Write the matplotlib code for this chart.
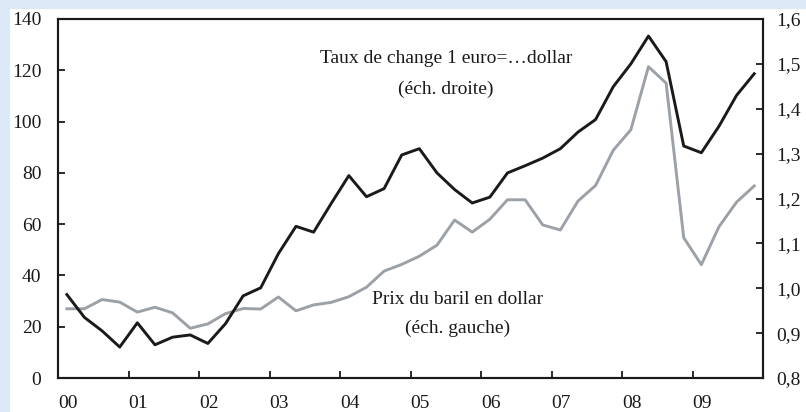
import matplotlib
matplotlib.use("Agg")
import matplotlib.pyplot as plt
from matplotlib.patches import Rectangle
import numpy as np

# quarterly data, 2000Q1 .. 2009Q4
years = list(range(2000, 2010))
year_labels = ["00", "01", "02", "03", "04", "05", "06", "07", "08", "09"]

# euro-dollar exchange rate (right scale)
eur_usd = [0.986, 0.935, 0.905, 0.869,
           0.923, 0.874, 0.891, 0.896,
           0.877, 0.921, 0.983, 1.001,
           1.077, 1.138, 1.125, 1.189,
           1.251, 1.204, 1.222, 1.297,
           1.311, 1.257, 1.220, 1.190,
           1.203, 1.257, 1.273, 1.290,
           1.311, 1.348, 1.376, 1.449,
           1.500, 1.562, 1.505, 1.317,
           1.302, 1.361, 1.430, 1.478]

# brent oil price in dollars (left scale)
brent = [27.0, 27.0, 30.6, 29.6,
         25.7, 27.6, 25.4, 19.4,
         21.1, 25.1, 27.1, 26.9,
         31.6, 26.2, 28.5, 29.5,
         31.7, 35.4, 41.7, 44.3,
         47.5, 51.8, 61.6, 56.9,
         61.9, 69.5, 69.5, 59.7,
         57.7, 69.0, 75.1, 88.8,
         96.8, 121.4, 115.0, 54.7,
         44.2, 59.0, 68.6, 74.9]

t = np.array(years[0] + (np.arange(len(brent)) + 0.5) / 4.0)

plt.rcParams['font.family'] = ['Liberation Serif', 'DejaVu Serif']
plt.rcParams['font.size'] = 14

fig = plt.figure(figsize=(8.06, 4.12), dpi=100, facecolor='white')
blue = '#dde8f6'
fig.patches.append(Rectangle((0, 0.978), 1, 0.022, transform=fig.transFigure,
                             facecolor=blue, edgecolor='none', zorder=-10))
fig.patches.append(Rectangle((0, 0), 0.0125, 1, transform=fig.transFigure,
                             facecolor=blue, edgecolor='none', zorder=-10))

ax = fig.add_axes([0.072, 0.0825, 0.8747, 0.8714])
ax2 = ax.twinx()

ax.plot(t, brent, color='#9ba1a7', lw=2.1, zorder=2)
ax2.plot(t, eur_usd, color='#1a1a1a', lw=2.1, zorder=3)

ax.set_xlim(2000, 2010)
ax.set_ylim(0, 140)
ax2.set_ylim(0.8, 1.6)

ax.set_yticks(range(0, 141, 20))
ax2.set_yticks(np.arange(0.8, 1.61, 0.1))
ax2.set_yticklabels([f"{v:.1f}".replace('.', ',') for v in np.arange(0.8, 1.61, 0.1)])

ax.set_xticks(years)
ax.set_xticklabels(year_labels, ha='left')

for a in (ax, ax2):
    for s in a.spines.values():
        s.set_linewidth(1.5)
        s.set_color('#1a1a1a')
ax.tick_params(axis='y', direction='in', length=5, width=1.3, pad=12, colors='#1a1a1a')
ax.tick_params(axis='x', direction='in', length=5, width=1.3, pad=12, colors='#1a1a1a')
ax2.tick_params(axis='y', direction='in', length=5, width=1.3, pad=9.5, colors='#1a1a1a')

ax.text(2005.5, 124.5, "Taux de change 1 euro=\u2026dollar", ha='center', va='center', color='#1a1a1a')
ax.text(2005.5, 112.5, "(éch. droite)", ha='center', va='center', color='#1a1a1a')
ax.text(2005.67, 30.5, "Prix du baril en dollar", ha='center', va='center', color='#1a1a1a')
ax.text(2005.67, 19.5, "(éch. gauche)", ha='center', va='center', color='#1a1a1a')

fig.savefig("out.png", dpi=100, facecolor=fig.get_facecolor())
